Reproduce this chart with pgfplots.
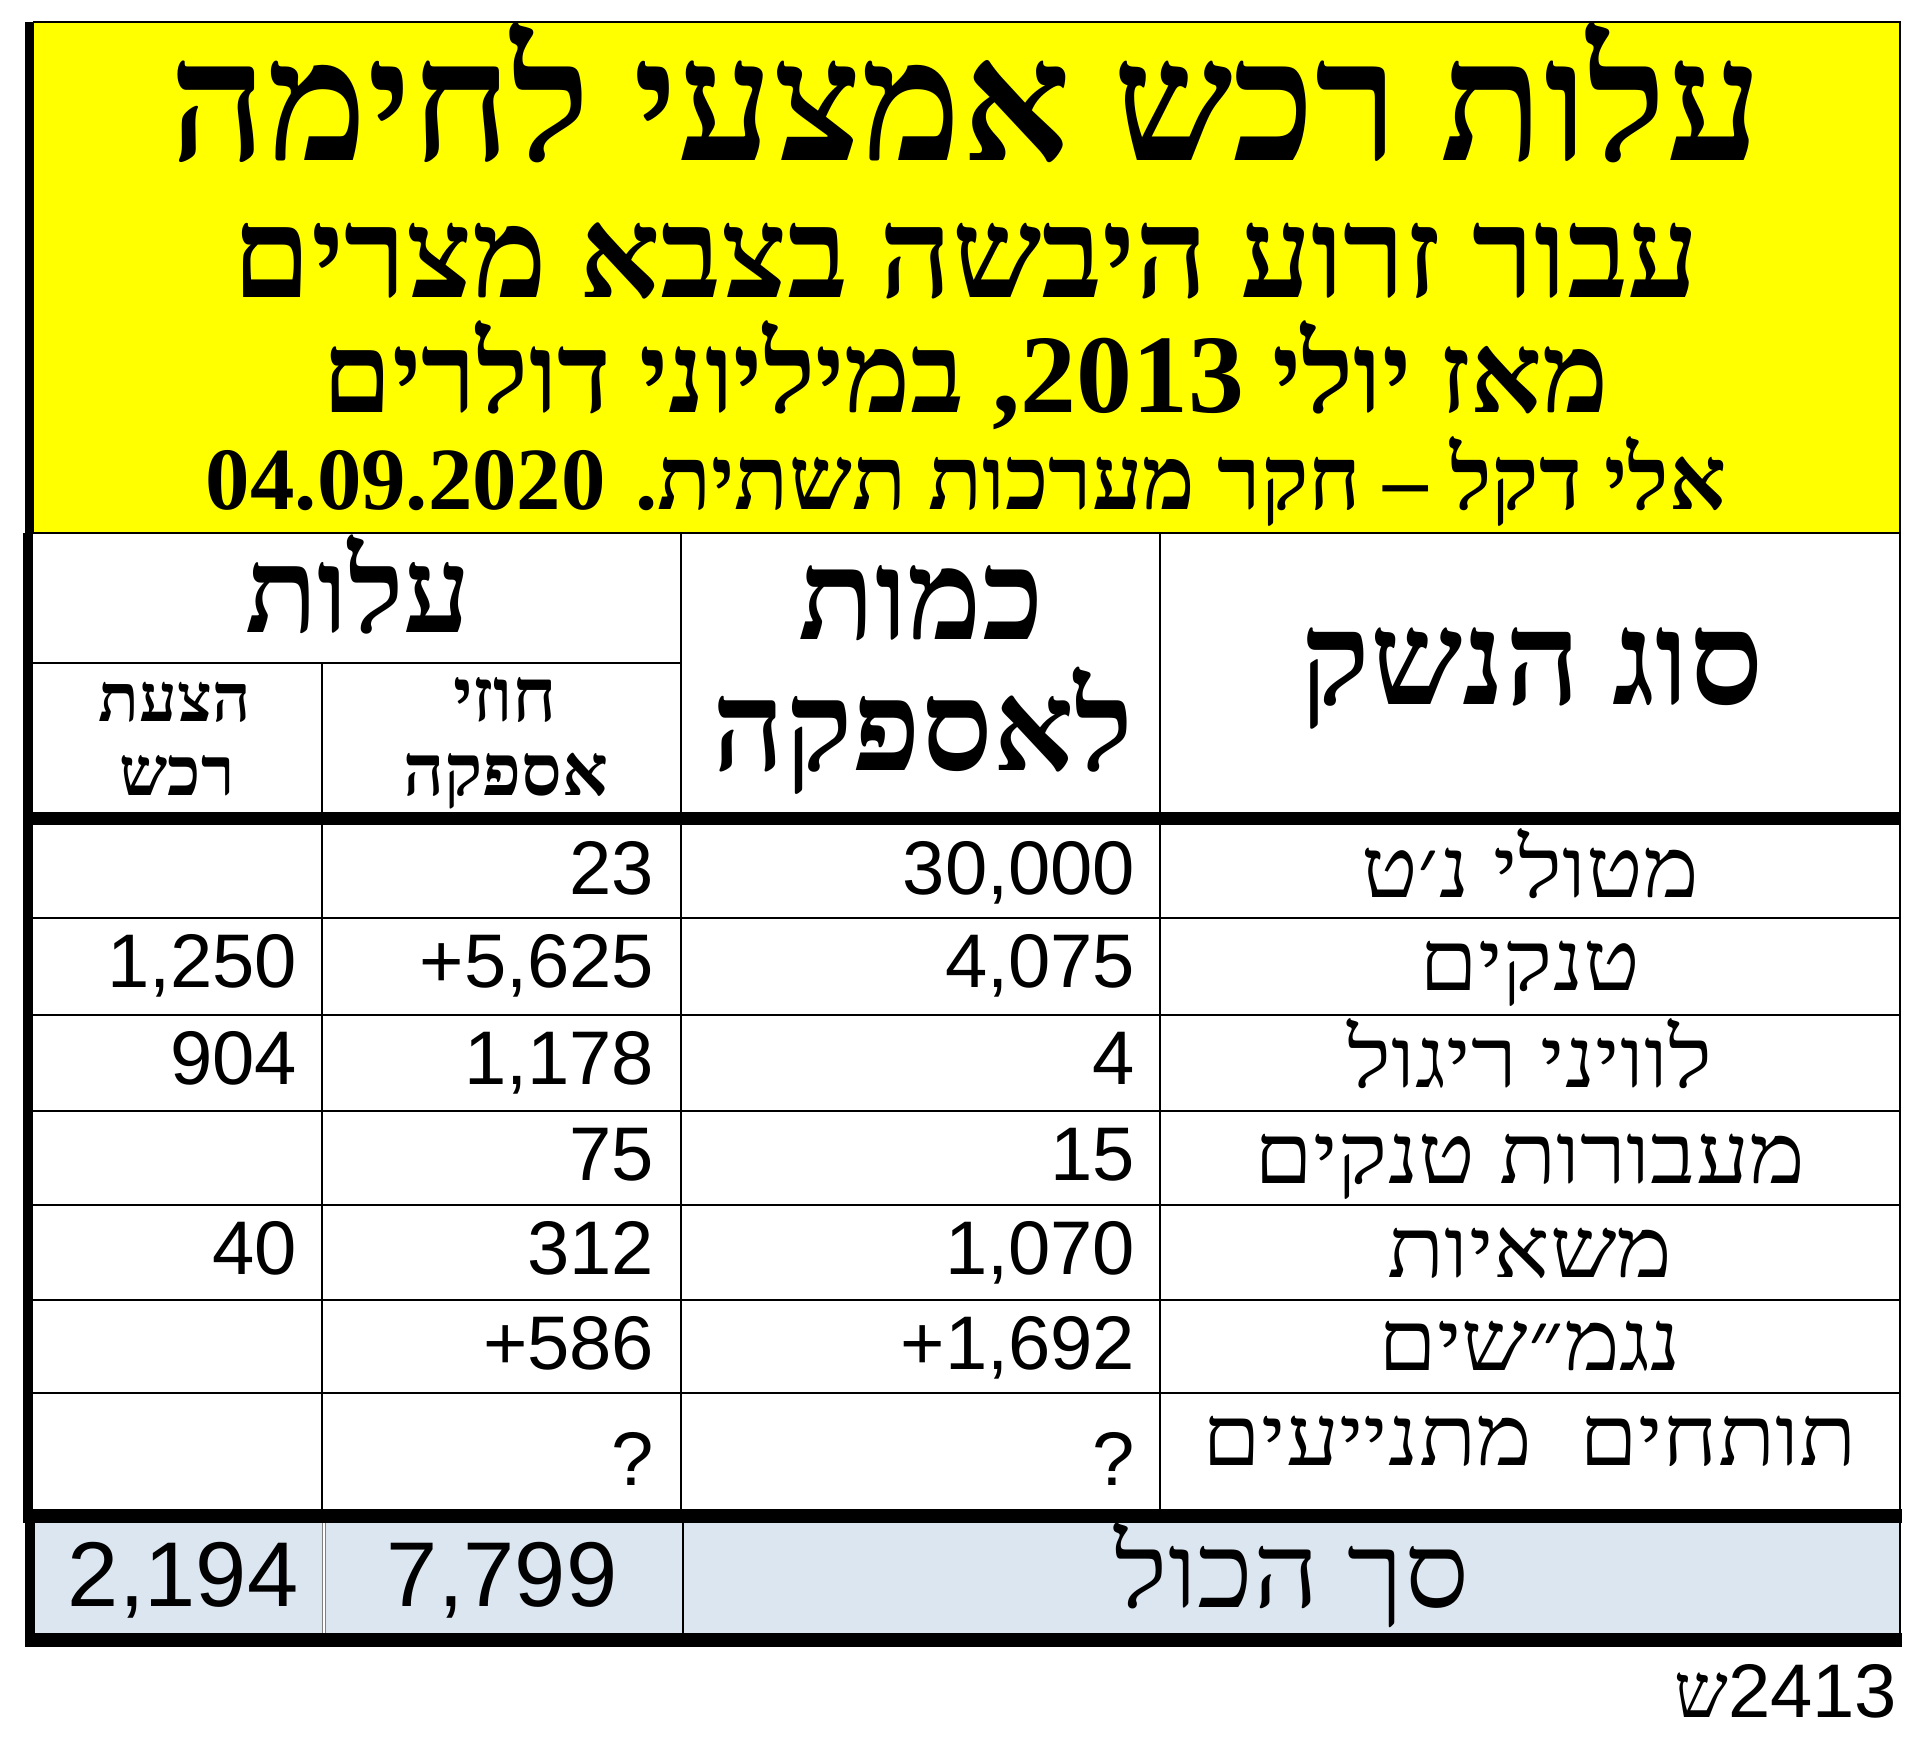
\documentclass[border=0pt]{standalone}
\usepackage{fontspec}
\usepackage{pgfplots}
\pgfplotsset{compat=1.18}
\TeXXeTstate=1
\setmainfont{Liberation Serif}
\newfontfamily\heb[Script=Hebrew]{Liberation Serif}
\newfontfamily\numf{Liberation Sans}
\definecolor{ttlyellow}{RGB}{255,255,0}
\definecolor{totblue}{RGB}{220,230,241}
\newcommand{\RL}[1]{\beginR #1\endR}
\newcommand{\fs}[1]{\fontsize{#1}{#1}\selectfont}
\newcommand{\hb}[2]{\resizebox{#1}{!}{\heb\bfseries\fs{20}\RL{#2}}}
\newcommand{\rl}[1]{\scalebox{1.12}[1]{\heb\fs{21}\RL{#1}}}

\pgfplotstableread{
x y v
1136 894 30,000
1136 987 4,075
1136 1084 4
1136 1180 15
1136 1274 1,070
1136 1369 +1,692
1136 1485 ?
}\qtytab
\pgfplotstableread{
x y v
655 894 23
655 987 +5,625
655 1084 1,178
655 1180 75
655 1274 312
655 1369 +586
655 1485 ?
}\contab
\pgfplotstableread{
x y v
298 987 1,250
298 1084 904
298 1274 40
}\proptab
\pgfplotstableread{
x y v
299 1606 2,194
618 1606 7,799
}\tottab

\begin{document}
\begin{tikzpicture}
\begin{axis}[scale only axis, width=480pt, height=440pt,
  xmin=0, xmax=1920, ymin=0, ymax=1760, y dir=reverse,
  axis lines=none, ticks=none, clip=false,
  every node near coord/.append style={anchor=base east, inner sep=0pt, text=black},
  nodes near coords={\pgfplotspointmeta}, point meta=explicit symbolic]
% background / bounding box
\path[fill=white] (axis cs:0,0) rectangle (axis cs:1920,1760);
% yellow title box
\fill[ttlyellow] (axis cs:33,22) rectangle (axis cs:1900,533);
\draw[line width=0.5pt] (axis cs:33,22) -- (axis cs:1900,22) -- (axis cs:1900,533);
% blue total row
\fill[totblue] (axis cs:35,1523) rectangle (axis cs:1900,1633);
% thin lines
\draw[line width=0.7pt] (axis cs:33,533) -- (axis cs:1900,533);
\draw[line width=0.5pt] (axis cs:1900,533) -- (axis cs:1900,1640);
\draw[line width=0.5pt] (axis cs:33,663) -- (axis cs:681,663);
\draw[line width=0.5pt] (axis cs:322,663) -- (axis cs:322,1509);
\draw[line width=0.5pt] (axis cs:681,533) -- (axis cs:681,1509);
\draw[line width=0.5pt] (axis cs:1160,533) -- (axis cs:1160,1509);
\draw[line width=0.5pt] (axis cs:33,918) -- (axis cs:1900,918);
\draw[line width=0.5pt] (axis cs:33,1015) -- (axis cs:1900,1015);
\draw[line width=0.5pt] (axis cs:33,1111) -- (axis cs:1900,1111);
\draw[line width=0.5pt] (axis cs:33,1205) -- (axis cs:1900,1205);
\draw[line width=0.5pt] (axis cs:33,1300) -- (axis cs:1900,1300);
\draw[line width=0.5pt] (axis cs:33,1393) -- (axis cs:1900,1393);
\draw[line width=0.8pt, gray] (axis cs:324,1523) -- (axis cs:324,1633);
\draw[line width=0.3pt, white] (axis cs:324,1523) -- (axis cs:324,1633);
\draw[line width=0.6pt] (axis cs:683,1523) -- (axis cs:683,1633);
% thick lines
\fill (axis cs:25,22) rectangle (axis cs:34,533);
\fill (axis cs:23,533) rectangle (axis cs:33,1523);
\fill (axis cs:25,1523) rectangle (axis cs:35,1647);
\fill (axis cs:33,812) rectangle (axis cs:1900,825);
\fill (axis cs:23,1509) rectangle (axis cs:1902,1523);
\fill (axis cs:25,1633) rectangle (axis cs:1902,1647);

% titles
\node[anchor=base, inner sep=0pt] at (axis cs:966,160) {\resizebox{398pt}{!}{\heb\bfseries\fs{34}\RL{עלות רכש אמצעי לחימה}}};
\node[anchor=base, inner sep=0pt] at (axis cs:966,297) {\resizebox{366.75pt}{!}{\heb\bfseries\fs{24}\RL{עבור זרוע היבשה בצבא מצרים}}};
\node[anchor=base, inner sep=0pt] at (axis cs:966,412) {\resizebox{321.5pt}{!}{\heb\bfseries\fs{23}\RL{מאז יולי 2013\kern0pt, במיליוני דולרים}}};
\node[anchor=base, inner sep=0pt] at (axis cs:966,509) {\resizebox{380pt}{!}{\heb\bfseries\fs{22}\RL{אלי דקל – חקר מערכות תשתית\kern0pt. 04.09.2020}}};

% headers
\node[anchor=base, inner sep=0pt] at (axis cs:1532,704) {\hb{115.7pt}{סוג הנשק}};
\node[anchor=base, inner sep=0pt] at (axis cs:921,639) {\hb{61.2pt}{כמות}};
\node[anchor=base, inner sep=0pt] at (axis cs:923,770) {\hb{105pt}{לאספקה}};
\node[anchor=base, inner sep=0pt] at (axis cs:358,632) {\hb{56.5pt}{עלות}};
\node[anchor=base, inner sep=0pt] at (axis cs:175,721) {\hb{38pt}{הצעת}};
\node[anchor=base, inner sep=0pt] at (axis cs:177,795) {\hb{28.75pt}{רכש}};
\node[anchor=base, inner sep=0pt] at (axis cs:505,721) {\hb{26pt}{חוזי}};
\node[anchor=base, inner sep=0pt] at (axis cs:506,795) {\hb{51.25pt}{אספקה}};

% row labels
\node[anchor=base, inner sep=0pt] at (axis cs:1530,897) {\rl{מטולי נ׳ט}};
\node[anchor=base, inner sep=0pt] at (axis cs:1530,990) {\rl{טנקים}};
\node[anchor=base, inner sep=0pt] at (axis cs:1530,1087) {\rl{לוויני ריגול}};
\node[anchor=base, inner sep=0pt] at (axis cs:1530,1183) {\rl{מעבורות טנקים}};
\node[anchor=base, inner sep=0pt] at (axis cs:1530,1277) {\rl{משאיות}};
\node[anchor=base, inner sep=0pt] at (axis cs:1530,1370) {\rl{נגמ״שים}};
\node[anchor=base, inner sep=0pt] at (axis cs:1530,1465) {\rl{תותחים\ \ מתנייעים}};
\node[anchor=base, inner sep=0pt] at (axis cs:1292,1607) {\scalebox{1.1}[1]{\heb\fs{26}\RL{סך הכול}}};
\node[anchor=base east, inner sep=0pt] at (axis cs:1898,1717) {{\heb\fs{19}ש}{\numf\fs{19}2413}};

% numbers
\addplot[draw=none, mark=none, every node near coord/.append style={font=\numf\fs{19}}] table[meta=v] {\qtytab};
\addplot[draw=none, mark=none, every node near coord/.append style={font=\numf\fs{19}}] table[meta=v] {\contab};
\addplot[draw=none, mark=none, every node near coord/.append style={font=\numf\fs{19}}] table[meta=v] {\proptab};
\addplot[draw=none, mark=none, every node near coord/.append style={font=\numf\fs{23}}] table[meta=v] {\tottab};
\end{axis}
\end{tikzpicture}
\end{document}
